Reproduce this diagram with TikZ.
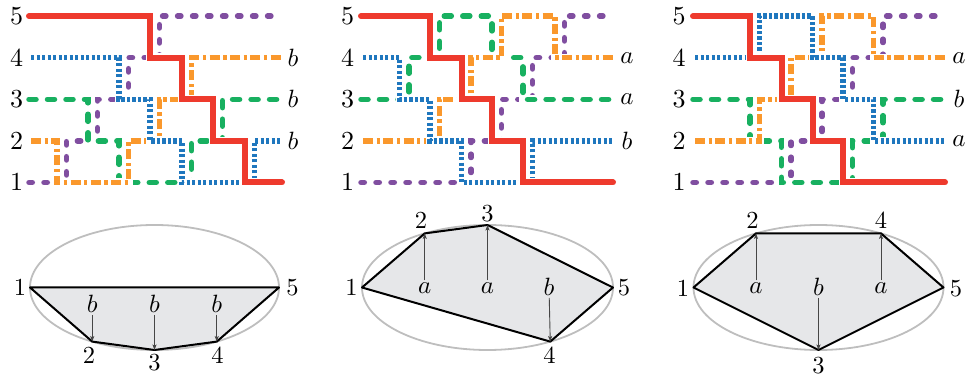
\documentclass[tikz,border=0pt]{standalone}
\usetikzlibrary{arrows.meta}
\definecolor{cred}{RGB}{238,58,45}
\definecolor{cpur}{RGB}{128,78,160}
\definecolor{cblu}{RGB}{31,119,190}
\definecolor{cora}{RGB}{250,152,44}
\definecolor{cgre}{RGB}{24,176,96}
\definecolor{cell}{RGB}{190,190,190}
\definecolor{cfill}{RGB}{230,231,233}
\definecolor{carr}{RGB}{70,70,70}
\font\TopRm=cmr10 at 26pt
\font\BotRm=cmr10 at 24.5pt
\font\LetMi=cmmi10 at 25pt
\def\rA{182.5}\def\rB{140.9}\def\rC{99.3}\def\rD{57.7}\def\rE{16.1}
\begin{document}
\begin{tikzpicture}[x=1pt,y=-1pt,
  halo/.style={preaction={draw=white,solid,line width=#1}},
  wred/.style={draw=cred,line width=6pt,line cap=round,halo=8.5pt},
  wpur/.style={draw=cpur,line width=5.5pt,line cap=round,dash pattern=on 3.3pt off 11.7pt,halo=8pt},
  wgre/.style={draw=cgre,line width=5.5pt,line cap=round,dash pattern=on 7pt off 11.5pt,halo=8pt},
  wblu/.style={draw=cblu,line width=5.5pt,dash pattern=on 3.2pt off 2.3pt,halo=8pt},
  wora/.style={draw=cora,line width=5.5pt,dash pattern=on 10pt off 3.5pt on 3.3pt off 3.5pt,halo=8pt},
  toplab/.style={inner sep=0pt,font=\TopRm},
  lett/.style={inner sep=0pt,font=\LetMi},
  botlab/.style={inner sep=0pt,font=\BotRm},
  ell/.style={draw=cell,line width=1.8pt},
  poly/.style={draw=black,line width=2pt,fill=cfill,line join=round},
  arr/.style={draw=carr,line width=0.9pt,-{Stealth[length=5.5pt,width=4pt,inset=1.2pt]},shorten <=2pt}
]
\useasboundingbox (0,0) rectangle (970,379);

% ---------- top labels ----------
\foreach \r/\y in {1/182.5,2/140.9,3/99.3,4/57.7,5/16.1}{
  \node[toplab] (pAl\r) at (16.5,\y) {\r};
  \node[toplab] (pBl\r) at (347.5,\y) {\r};
  \node[toplab] (pCl\r) at (679,\y) {\r};
}
\node[lett] (pAr4) at (293,\rD) {b};
\node[lett] (pAr3) at (293,\rC) {b};
\node[lett] (pAr2) at (293,\rB) {b};
\node[lett] (pBr4) at (627,\rD) {a};
\node[lett] (pBr3) at (627,\rC) {a};
\node[lett] (pBr2) at (627,\rB) {b};
\node[lett] (pCr4) at (959,\rD) {a};
\node[lett] (pCr3) at (959,\rC) {b};
\node[lett] (pCr2) at (959,\rB) {a};

% ---------- panel 1 wires ----------
\draw[wpur] (29,\rA) -- (66.5,\rA) -- (66.5,\rB) -- (97.5,\rB) -- (97.5,\rC) -- (128.5,\rC) -- (128.5,\rD) -- (159.5,\rD) -- (159.5,\rE) -- (282,\rE);
\draw[wgre] (29,\rC) -- (88,\rC) -- (88,\rB) -- (119,\rB) -- (119,\rA) -- (191.5,\rA) -- (191.5,\rB) -- (222.5,\rB) -- (222.5,\rC) -- (282,\rC);
\draw[wora] (31,\rB) -- (57,\rB) -- (57,\rA) -- (128.5,\rA) -- (128.5,\rB) -- (159.5,\rB) -- (159.5,\rC) -- (191.5,\rC) -- (191.5,\rD) -- (282,\rD);
\draw[wblu] (31,\rD) -- (119,\rD) -- (119,\rC) -- (150,\rC) -- (150,\rB) -- (182,\rB) -- (182,\rA) -- (254.5,\rA) -- (254.5,\rB) -- (282,\rB);
\draw[wred] (29,\rE) -- (150,\rE) -- (150,\rD) -- (182,\rD) -- (182,\rC) -- (213,\rC) -- (213,\rB) -- (245,\rB) -- (245,\rA) -- (282,\rA);

% ---------- panel 2 wires ----------
\draw[wpur] (361,\rA) -- (471,\rA) -- (471,\rB) -- (501.5,\rB) -- (501.5,\rC) -- (532.5,\rC) -- (532.5,\rD) -- (564.5,\rD) -- (564.5,\rE) -- (613,\rE);
\draw[wgre] (361,\rC) -- (409,\rC) -- (409,\rD) -- (439.5,\rD) -- (439.5,\rE) -- (492,\rE) -- (492,\rD) -- (523,\rD) -- (523,\rC) -- (613,\rC);
\draw[wora] (363,\rB) -- (439.5,\rB) -- (439.5,\rC) -- (471,\rC) -- (471,\rD) -- (501.5,\rD) -- (501.5,\rE) -- (555,\rE) -- (555,\rD) -- (613,\rD);
\draw[wblu] (363,\rD) -- (399.5,\rD) -- (399.5,\rC) -- (430,\rC) -- (430,\rB) -- (461.5,\rB) -- (461.5,\rA) -- (532.5,\rA) -- (532.5,\rB) -- (613,\rB);
\draw[wred] (361,\rE) -- (430,\rE) -- (430,\rD) -- (461.5,\rD) -- (461.5,\rC) -- (492,\rC) -- (492,\rB) -- (523,\rB) -- (523,\rA) -- (613,\rA);

% ---------- panel 3 wires ----------
\draw[wpur] (693,\rA) -- (791,\rA) -- (791,\rB) -- (822,\rB) -- (822,\rC) -- (852.5,\rC) -- (852.5,\rD) -- (883,\rD) -- (883,\rE) -- (945,\rE);
\draw[wgre] (693,\rC) -- (750,\rC) -- (750,\rB) -- (781.5,\rB) -- (781.5,\rA) -- (852.5,\rA) -- (852.5,\rB) -- (883,\rB) -- (883,\rC) -- (945,\rC);
\draw[wora] (695,\rB) -- (759.5,\rB) -- (759.5,\rC) -- (791,\rC) -- (791,\rD) -- (822,\rD) -- (822,\rE) -- (873.5,\rE) -- (873.5,\rD) -- (945,\rD);
\draw[wblu] (695,\rD) -- (759.5,\rD) -- (759.5,\rE) -- (812.5,\rE) -- (812.5,\rD) -- (843,\rD) -- (843,\rC) -- (873.5,\rC) -- (873.5,\rB) -- (945,\rB);
\draw[wred] (693,\rE) -- (750,\rE) -- (750,\rD) -- (781.5,\rD) -- (781.5,\rC) -- (812.5,\rC) -- (812.5,\rB) -- (843,\rB) -- (843,\rA) -- (945,\rA);

% ---------- bottom panel 1 ----------
\coordinate (qA1) at (30,287.5);
\coordinate (qA2) at (92.25,341.6);
\coordinate (qA3) at (154.5,350);
\coordinate (qA4) at (216.75,341.6);
\coordinate (qA5) at (279,287.5);
\draw[ell] (154.5,287.5) ellipse [x radius=124.5, y radius=62.5];
\draw[poly] (qA1) -- (qA2) -- (qA3) -- (qA4) -- (qA5) -- cycle;
\node[botlab] (nA1) at (20,287.5) {1};
\node[botlab] (nA5) at (292.5,287.5) {5};
\node[botlab] (nA2) at (89,356) {2};
\node[botlab] (nA3) at (154.5,363) {3};
\node[botlab] (nA4) at (217.5,356) {4};
\node[lett] (sA2) at (92.25,304) {b};
\node[lett] (sA3) at (154.5,304) {b};
\node[lett] (sA4) at (216.75,304) {b};
\draw[arr] (sA2) -- (qA2);
\draw[arr] (sA3) -- (qA3);
\draw[arr] (sA4) -- (qA4);

% ---------- bottom panel 2 ----------
\coordinate (qB1) at (362,287.5);
\coordinate (qB2) at (424.75,233.4);
\coordinate (qB3) at (487.5,225);
\coordinate (qB4) at (550.25,341.6);
\coordinate (qB5) at (613,287.5);
\draw[ell] (487.5,287.5) ellipse [x radius=125.5, y radius=62.5];
\draw[poly] (qB1) -- (qB2) -- (qB3) -- (qB5) -- (qB4) -- cycle;
\node[botlab] (nB1) at (351.5,287.5) {1};
\node[botlab] (nB2) at (421,220.5) {2};
\node[botlab] (nB3) at (487.5,214) {3};
\node[botlab] (nB5) at (624,287.5) {5};
\node[botlab] (nB4) at (549.5,355.5) {4};
\node[lett] (sB2) at (424.75,288) {a};
\node[lett] (sB3) at (487.5,288) {a};
\node[lett] (sB4) at (549,287) {b};
\draw[arr] (sB2) -- (qB2);
\draw[arr] (sB3) -- (qB3);
\draw[arr] (sB4) -- (qB4);

% ---------- bottom panel 3 ----------
\coordinate (qC1) at (693.5,287.5);
\coordinate (qC2) at (756,233.4);
\coordinate (qC3) at (818.5,350);
\coordinate (qC4) at (881,233.4);
\coordinate (qC5) at (943.5,287.5);
\draw[ell] (818.5,287.5) ellipse [x radius=125, y radius=62.5];
\draw[poly] (qC1) -- (qC2) -- (qC4) -- (qC5) -- (qC3) -- cycle;
\node[botlab] (nC1) at (683,289) {1};
\node[botlab] (nC2) at (752.5,220.5) {2};
\node[botlab] (nC4) at (881,220.5) {4};
\node[botlab] (nC5) at (956,289) {5};
\node[botlab] (nC3) at (818.5,366) {3};
\node[lett] (sC2) at (756,288) {a};
\node[lett] (sC3) at (818.5,287) {b};
\node[lett] (sC4) at (881,288) {a};
\draw[arr] (sC2) -- (qC2);
\draw[arr] (sC3) -- (qC3);
\draw[arr] (sC4) -- (qC4);
\end{tikzpicture}
\end{document}
